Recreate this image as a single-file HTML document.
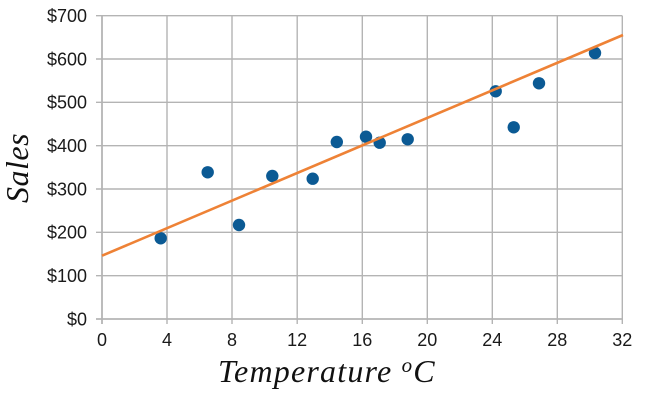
<!DOCTYPE html>
<html><head><meta charset="utf-8"><style>
html,body{margin:0;padding:0;background:#fff;}
svg{display:block;}
</style></head><body>
<svg width="647" height="406" viewBox="0 0 647 406" xmlns="http://www.w3.org/2000/svg">
<rect width="647" height="406" fill="#fff"/>
<g stroke="#b4b4b4" stroke-width="1.4" fill="none">
<line x1="96" y1="15.7" x2="622.3" y2="15.7"/>
<line x1="96" y1="59" x2="622.3" y2="59"/>
<line x1="96" y1="102.3" x2="622.3" y2="102.3"/>
<line x1="96" y1="145.7" x2="622.3" y2="145.7"/>
<line x1="96" y1="189" x2="622.3" y2="189"/>
<line x1="96" y1="232.3" x2="622.3" y2="232.3"/>
<line x1="96" y1="275.7" x2="622.3" y2="275.7"/>
<line x1="96" y1="319" x2="622.3" y2="319" stroke-width="1.8"/>
<line x1="102" y1="15.7" x2="102" y2="324" stroke-width="1.8"/>
<line x1="167" y1="15.7" x2="167" y2="324"/>
<line x1="232" y1="15.7" x2="232" y2="324"/>
<line x1="297.2" y1="15.7" x2="297.2" y2="324"/>
<line x1="362.3" y1="15.7" x2="362.3" y2="324"/>
<line x1="427.3" y1="15.7" x2="427.3" y2="324"/>
<line x1="492.3" y1="15.7" x2="492.3" y2="324"/>
<line x1="557.3" y1="15.7" x2="557.3" y2="324"/>
<line x1="622.3" y1="15.7" x2="622.3" y2="324"/>
</g>
<g font-family="Liberation Sans, sans-serif" font-size="18" fill="#1a1a1a" text-anchor="end">
<text x="87" y="22">$700</text>
<text x="87" y="65.3">$600</text>
<text x="87" y="108.6">$500</text>
<text x="87" y="152">$400</text>
<text x="87" y="195.3">$300</text>
<text x="87" y="238.6">$200</text>
<text x="87" y="282">$100</text>
<text x="87" y="325.3">$0</text>
</g>
<g font-family="Liberation Sans, sans-serif" font-size="18" fill="#1a1a1a" text-anchor="middle">
<text x="102" y="346">0</text>
<text x="167" y="346">4</text>
<text x="232" y="346">8</text>
<text x="297.2" y="346">12</text>
<text x="362.3" y="346">16</text>
<text x="427.3" y="346">20</text>
<text x="492.3" y="346">24</text>
<text x="557.3" y="346">28</text>
<text x="622.3" y="346">32</text>
</g>
<g fill="#0b5a94">
<circle cx="160.7" cy="238.3" r="6.2"/>
<circle cx="207.7" cy="172.3" r="6.2"/>
<circle cx="239" cy="225" r="6.2"/>
<circle cx="272.3" cy="176" r="6.2"/>
<circle cx="312.7" cy="178.7" r="6.2"/>
<circle cx="336.8" cy="142" r="6.2"/>
<circle cx="366" cy="136.7" r="6.2"/>
<circle cx="379.7" cy="142.7" r="6.2"/>
<circle cx="407.7" cy="139.3" r="6.2"/>
<circle cx="495.7" cy="91.3" r="6.2"/>
<circle cx="513.7" cy="127.3" r="6.2"/>
<circle cx="539" cy="83.3" r="6.2"/>
<circle cx="595" cy="53" r="6.2"/>
</g>
<line x1="102" y1="255.7" x2="623" y2="35" stroke="#ee8236" stroke-width="2.6"/>
<text x="218" y="382" font-family="Liberation Serif, serif" font-style="italic" font-size="32" letter-spacing="1.2" fill="#111">Temperature <tspan font-size="21" dy="-10">o</tspan><tspan dy="10">C</tspan></text>
<text transform="translate(28,168) rotate(-90)" text-anchor="middle" font-family="Liberation Serif, serif" font-style="italic" font-size="32" letter-spacing="0.5" fill="#111">Sales</text>
</svg>
</body></html>
